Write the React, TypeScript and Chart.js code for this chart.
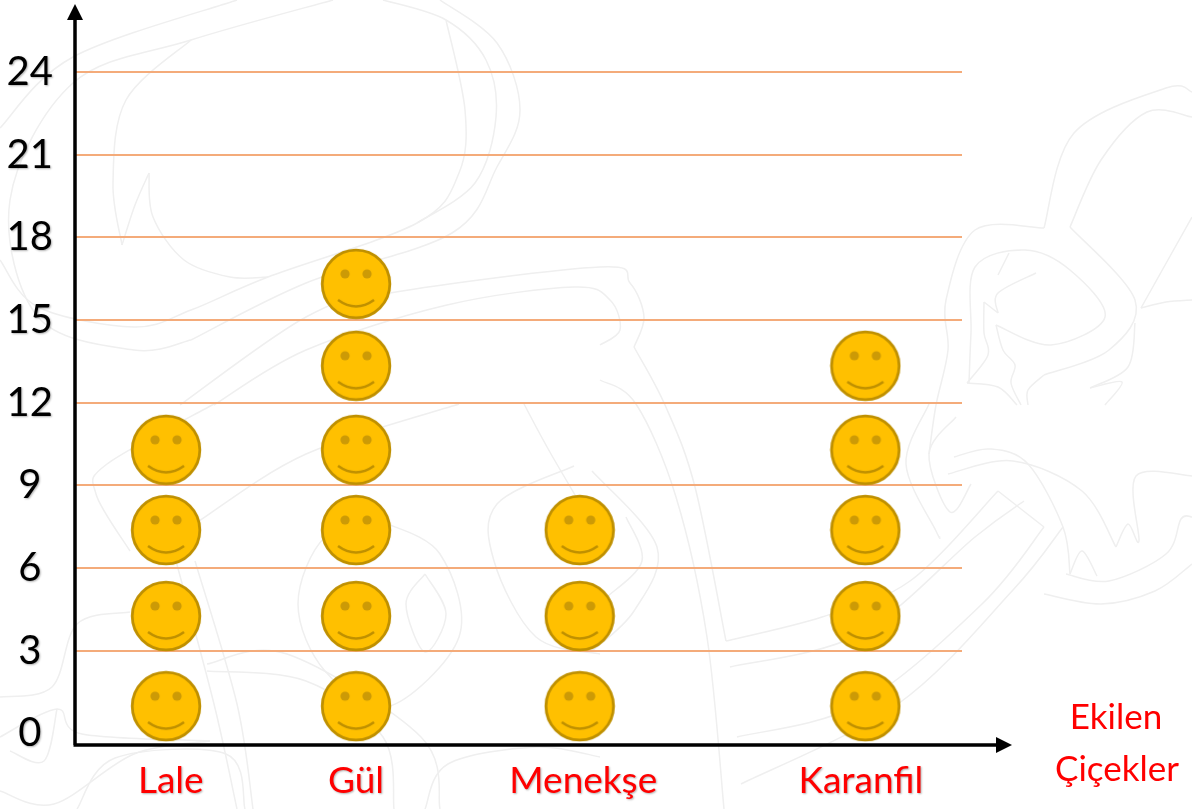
import React, { useEffect, useRef } from "react";
import { Chart, registerables } from "chart.js";

Chart.register(...registerables);

// ---- data ----
const categories = ["Lale", "Gül", "Menekşe", "Karanfil"];
const yTicks = [0, 3, 6, 9, 12, 15, 18, 21, 24];
const axisTitleLines = ["Ekilen", "Çiçekler"];

// The columns are unevenly spaced in the picture, so the x axis is a numeric one.
const columnX = [1.026, 3.168, 5.69, 8.91];
const labelX = [1.08, 3.168, 5.73, 8.86];

const laleValues = [0.99, 4.26, 7.38, 10.29];
const gulValues = [0.99, 4.26, 7.38, 10.29, 13.34, 16.31];
const menekseValues = [0.99, 4.26, 7.38];
const karanfilValues = [0.99, 4.26, 7.38, 10.29, 13.34];
const seriesValues = [laleValues, gulValues, menekseValues, karanfilValues];

// Faint ornament behind the chart (decoration only, not data)
const ornament: number[][] = [
  [0,128,73,57,237,0],
  [191,340,134,350,38,317,10,200,73,83,191,40,333,0],
  [0,260,38,307,134,327,191,310,268,277,417,223,459,173,465,110,446,20],
  [191,340,306,283,452,233,497,167,520,110,497,43,440,0],
  [383,0,446,20,486,60,496,117,475,183,417,223],
  [191,40,126,100,113,183,122,245],
  [122,245,135,205,149,173],
  [149,173,153,217,184,260,230,277,268,277],
  [180,405,306,317,390,293,600,267,630,283,644,317,634,347],
  [214,405,306,350,447,305,574,287,610,300,620,330,600,345],
  [634,347,665,405,695,487,726,641],
  [600,380,636,404,676,497,707,637,724,809],
  [726,641,822,617,910,581,998,491],
  [998,491,1044,527],
  [1044,527,982,604,860,704,737,737],
  [730,667,860,634,975,537,1024,501],
  [1063,527,1013,590,898,704,741,784],
  [1070,227,1135,300,1109,350,1044,375],
  [1044,228,975,230,946,300,948,350,936,405,929,454],
  [1044,228,1074,133,1166,88,1192,92],
  [1070,227,1101,160,1147,112,1192,117],
  [996,325,1051,345,1105,317,1070,270,1025,250,975,267,971,333,969,383],
  [998,275,1009,253],
  [1036,273,998,293,998,313],
  [998,313,984,302],
  [984,302,984,333,988,355,967,383],
  [1141,308,1192,217],
  [1141,308,1166,302,1192,300],
  [1135,323,1128,367,1090,388],
  [1090,388,1122,382,1105,405],
  [996,325,1003,350,1015,365,1011,383,1021,405],
  [1044,375,1028,390,1028,405],
  [967,383,998,387,1017,405],
  [929,404,906,464,936,531,940,537],
  [956,417,929,454,950,512,971,484],
  [954,457,990,449,1028,464,1063,527,1070,574],
  [1070,574,1082,551,1097,576],
  [948,474,1013,461,1082,491,1116,547],
  [1116,547,1128,524,1139,541,1136,476,1192,476],
  [1066,574,1109,581,1166,554,1181,519,1192,517],
  [1044,594,1101,604,1155,591,1192,564],
  [0,697,52,687,77,624,130,612],
  [0,737,57,709,82,734,210,741],
  [10,751,44,761,57,709],
  [0,791,54,804,134,754,210,741],
  [383,522,325,537,298,604,325,671,387,707,459,637,440,554,383,522],
  [425,574,406,604,425,652,446,614,425,574],
  [176,561,214,704,237,809],
  [195,561,237,704,253,809],
  [207,671,306,681,383,737,394,809],
  [207,664,287,654,421,737,440,809],
  [214,404,107,464,96,494,130,551],
  [574,466,497,504,494,561,536,637,600,654],
  [592,471,657,547,634,611,592,651],
  [607,597,642,561,626,517],
  [199,521,306,454,459,404],
  [425,809,448,764,536,747,600,757],
  [77,809,115,758,226,754,245,809],
  [524,404,551,454,600,537],
];

function makeSmiley(): HTMLCanvasElement {
  const c = document.createElement("canvas");
  c.width = 72;
  c.height = 72;
  const g = c.getContext("2d")!;
  const m = 36;
  g.beginPath();
  g.arc(m, m, 33.8, 0, Math.PI * 2);
  g.fillStyle = "#FFC000";
  g.fill();
  g.lineWidth = 2.8;
  g.strokeStyle = "#BF9000";
  g.stroke();
  g.fillStyle = "#CC9A06";
  for (const dx of [-11, 11]) {
    g.beginPath();
    g.arc(m + dx, m - 10, 4.6, 0, Math.PI * 2);
    g.fill();
  }
  g.beginPath();
  g.moveTo(m - 18, m + 16);
  g.quadraticCurveTo(m, m + 29, m + 18, m + 16);
  g.lineWidth = 2.6;
  g.stroke();
  return c;
}

const backdropPlugin = {
  id: "backdrop",
  beforeDraw(chart: any) {
    const ctx = chart.ctx;
    ctx.save();
    ctx.strokeStyle = "#EFEFEF";
    ctx.lineWidth = 1.5;
    for (const p of ornament) {
      const n = p.length / 2;
      const px = (i: number) => p[2 * Math.max(0, Math.min(n - 1, i))];
      const py = (i: number) => p[2 * Math.max(0, Math.min(n - 1, i)) + 1];
      ctx.beginPath();
      ctx.moveTo(p[0], p[1]);
      for (let i = 0; i < n - 1; i++) {
        ctx.bezierCurveTo(
          px(i) + (px(i + 1) - px(i - 1)) / 6,
          py(i) + (py(i + 1) - py(i - 1)) / 6,
          px(i + 1) - (px(i + 2) - px(i)) / 6,
          py(i + 1) - (py(i + 2) - py(i)) / 6,
          px(i + 1),
          py(i + 1),
        );
      }
      ctx.stroke();
    }
    ctx.restore();
  },
  beforeDatasetsDraw(chart: any) {
    const ctx = chart.ctx;
    const { left, bottom } = chart.chartArea;
    ctx.save();
    ctx.strokeStyle = "#000";
    ctx.fillStyle = "#000";
    ctx.lineWidth = 3.5;
    ctx.beginPath();
    ctx.moveTo(left, bottom);
    ctx.lineTo(left, 18);
    ctx.moveTo(left - 1.5, bottom);
    ctx.lineTo(998, bottom);
    ctx.stroke();
    ctx.beginPath();
    ctx.moveTo(left, 4);
    ctx.lineTo(left + 8, 20);
    ctx.lineTo(left - 8, 20);
    ctx.closePath();
    ctx.fill();
    ctx.beginPath();
    ctx.moveTo(1012, bottom);
    ctx.lineTo(996, bottom - 8);
    ctx.lineTo(996, bottom + 8);
    ctx.closePath();
    ctx.fill();
    ctx.restore();
  },
  afterDatasetsDraw(chart: any) {
    const ctx = chart.ctx;
    ctx.shadowColor = "rgba(0,0,0,0.3)";
    ctx.shadowBlur = 2;
    ctx.shadowOffsetX = 1;
    ctx.shadowOffsetY = 1;
  },
  afterDraw(chart: any) {
    const ctx = chart.ctx;
    ctx.shadowColor = "transparent";
    ctx.shadowBlur = 0;
    ctx.shadowOffsetX = 0;
    ctx.shadowOffsetY = 0;
    ctx.save();
    ctx.fillStyle = "#FF0000";
    ctx.font = "35px Lato";
    ctx.textAlign = "center";
    ctx.textBaseline = "middle";
    ctx.fillText(axisTitleLines[0], 1116, 718);
    ctx.fillText(axisTitleLines[1], 1117, 770);
    ctx.restore();
  },
};

export default function App() {
  const ref = useRef<HTMLCanvasElement>(null);
  useEffect(() => {
    const smiley = makeSmiley();
    const chart = new Chart(ref.current!, {
      type: "scatter",
      data: {
        datasets: categories.map((name, i) => ({
          label: name,
          data: seriesValues[i].map((v) => ({ x: columnX[i], y: v })),
          pointStyle: smiley,
          showLine: false,
          clip: false,
        })),
      } as any,
      plugins: [backdropPlugin],
      options: {
        responsive: false,
        animation: false,
        layout: { padding: { top: 72, right: 230, left: 0, bottom: 0 } },
        plugins: { legend: { display: false }, tooltip: { enabled: false }, title: { display: false } },
        scales: {
          x: {
            type: "linear",
            min: 0,
            max: 10,
            border: { display: false },
            grid: { display: false },
            afterBuildTicks: (s: any) => {
              s.ticks = labelX.map((value) => ({ value }));
            },
            afterFit: (s: any) => {
              s.height = 64;
            },
            ticks: {
              z: 1,
              autoSkip: false,
              maxRotation: 0,
              padding: 6,
              color: "#FF0000",
              font: { family: "Lato", size: 37 },
              callback: (_: any, i: number) => categories[i],
            },
          },
          y: {
            type: "linear",
            min: -0.42,
            max: 24,
            border: { display: false },
            grid: {
              drawTicks: false,
              lineWidth: 2,
              color: (c: any) => (c.tick && c.tick.value === 0 ? "transparent" : "#F4AB7A"),
            },
            afterBuildTicks: (s: any) => {
              s.ticks = yTicks.map((value) => ({ value }));
            },
            afterFit: (s: any) => {
              s.width = 75;
            },
            ticks: {
              z: 1,
              autoSkip: false,
              padding: 22,
              crossAlign: "center",
              color: "#000000",
              font: { family: "Lato", size: 40 },
              callback: (v: any) => String(v),
            },
          },
        },
      } as any,
    });
    return () => chart.destroy();
  }, []);
  return (
    <div style={{ position: "absolute", left: 0, top: 0, width: 1192, height: 809, background: "#fff", overflow: "hidden" }}>
      <canvas ref={ref} width={1192} height={809} style={{ display: "block" }} />
    </div>
  );
}
